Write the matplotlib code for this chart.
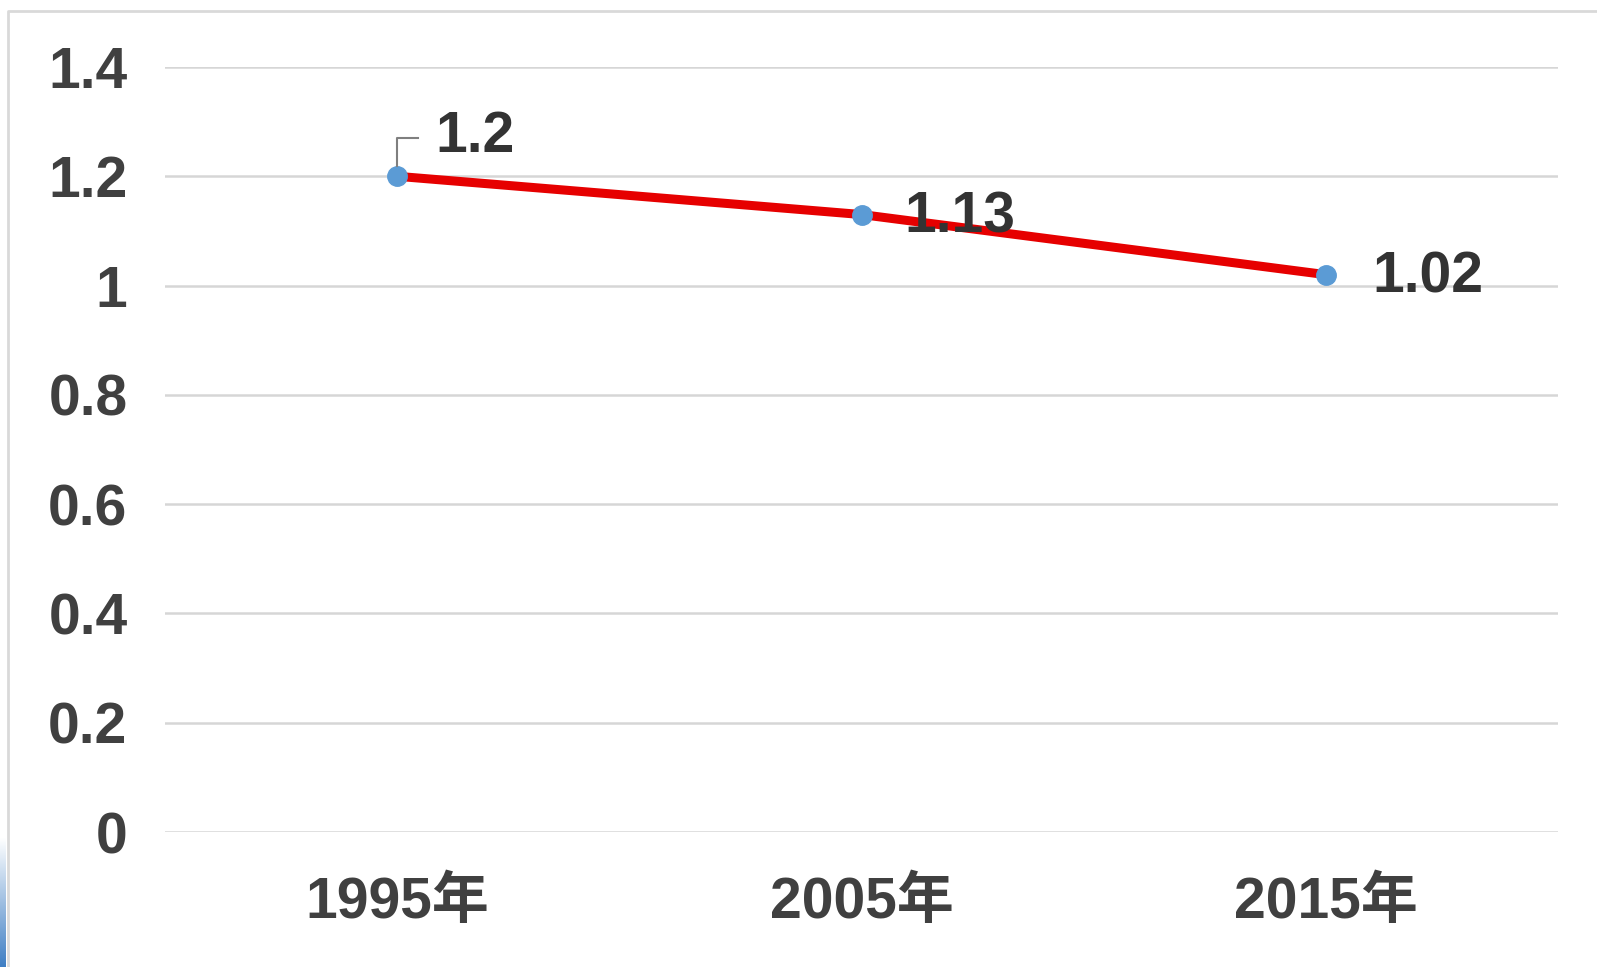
import matplotlib
matplotlib.use("Agg")
import matplotlib.pyplot as plt
import numpy as np
from matplotlib.lines import Line2D

years = ["1995年", "2005年", "2015年"]
values = [1.2, 1.13, 1.02]
y_ticks = [0, 0.2, 0.4, 0.6, 0.8, 1.0, 1.2, 1.4]
y_tick_labels = ["0", "0.2", "0.4", "0.6", "0.8", "1", "1.2", "1.4"]

FONT = ["Liberation Sans", "Noto Sans CJK SC", "DejaVu Sans"]
TEXT_COLOR = "#404040"
GRID_COLOR = "#d6d6d6"
FS = 41

fig = plt.figure(figsize=(15.97, 9.67), dpi=100)
fig.patch.set_facecolor("white")
ax = fig.add_axes([0.1033, 0.1396, 0.9756 - 0.1033, 0.9307 - 0.1396])

x = np.arange(len(years))
ax.plot(x, values, color="#e60000", lw=6.5, solid_capstyle="butt", zorder=3)
ax.plot(x, values, ls="none", marker="o", ms=14, color="#5b9bd5",
        markeredgecolor="#5b9bd5", zorder=4, clip_on=False)

ax.set_xlim(-0.5, len(years) - 0.5)
ax.set_ylim(0, 1.4)
ax.set_yticks(y_ticks)
ax.set_yticklabels(y_tick_labels)
ax.set_xticks(x)
ax.set_xticklabels(years)

for s in ax.spines.values():
    s.set_visible(False)
ax.grid(axis="y", color=GRID_COLOR, lw=1.8, zorder=0)
ax.set_axisbelow(True)
ax.tick_params(axis="both", length=0, colors=TEXT_COLOR)
ax.tick_params(axis="y", pad=27)
ax.tick_params(axis="x", pad=32)
for lab in ax.get_xticklabels() + ax.get_yticklabels():
    lab.set_family(FONT)
    lab.set_fontsize(FS)
    lab.set_fontweight("bold")
    lab.set_color(TEXT_COLOR)

# data labels
offsets = [(38, 39), (43, -3), (47, -3)]
for xi, v, (dx, dy) in zip(x, values, offsets):
    ax.annotate(f"{v:g}", (xi, v), xytext=(dx, dy), textcoords="offset pixels",
                ha="left", va="center", fontsize=FS, fontweight="bold",
                family=FONT, color="#333333", zorder=5)

# leader line for the first label
x0, y0 = ax.transData.transform((x[0], values[0]))
lx = [x0, x0, x0 + 21]
ly = [y0 + 10, y0 + 38, y0 + 38]
fig.add_artist(Line2D(*fig.transFigure.inverted().transform(np.column_stack([lx, ly])).T,
                      color="#7f7f7f", lw=1.5))

# chart frame
W, H = 1597, 967
fig.add_artist(Line2D([8 / W, 8 / W, 1.0], [0, 1 - 11 / H, 1 - 11 / H],
                      color="#d9d9d9", lw=2))

# blue edge at lower left
grad = np.linspace(0, 1, 100).reshape(-1, 1)
gax = fig.add_axes([0, 0, 6 / W, 130 / H])
gax.imshow(grad, aspect="auto", cmap=matplotlib.colors.LinearSegmentedColormap.from_list(
    "edge", ["#3f7fc4", "#ffffff"]), origin="lower")
gax.axis("off")

fig.savefig("out.png", dpi=100)
